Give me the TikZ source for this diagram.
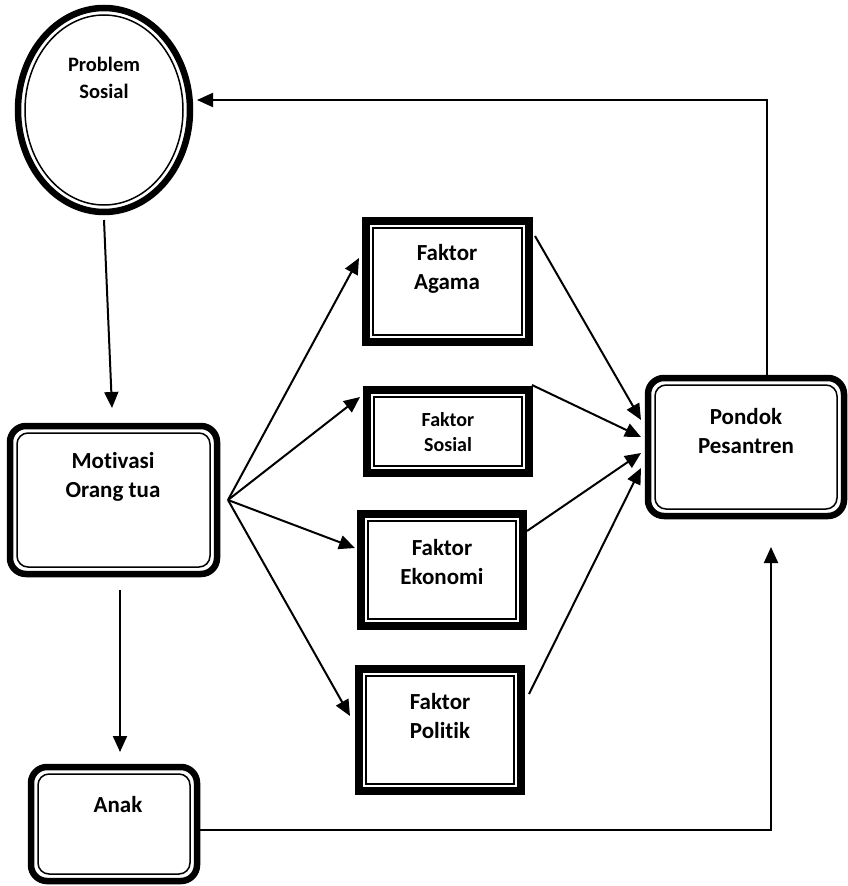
\documentclass[tikz,border=0pt]{standalone}
\usepackage{fontspec}
\setmainfont{Carlito}[Ligatures=NoCommon]
\usetikzlibrary{shapes.geometric,arrows.meta,calc}
\begin{document}
\begin{tikzpicture}[x=1pt,y=-1pt,
  rbout/.style={draw, rectangle, line width=6.5pt, rounded corners=16pt, inner sep=0pt, outer sep=0pt},
  rbin/.style={draw, rectangle, line width=1.5pt, rounded corners=11pt, inner sep=0pt, outer sep=0pt},
  sqout/.style={draw, rectangle, line width=8.5pt, inner sep=0pt, outer sep=0pt},
  sqin/.style={draw, rectangle, line width=1.5pt, inner sep=0pt, outer sep=0pt},
  elout/.style={draw, ellipse, line width=6.5pt, inner sep=0pt, outer sep=0pt},
  elin/.style={draw, ellipse, line width=1.5pt, inner sep=0pt, outer sep=0pt},
  lbl/.style={align=center, inner sep=0pt, font=\fontsize{23}{28.5}\selectfont\bfseries},
  lbls/.style={align=center, inner sep=0pt, font=\fontsize{20}{25}\selectfont\bfseries},
  lblp/.style={align=center, inner sep=0pt, font=\fontsize{20.5}{27}\selectfont\bfseries},
  arr/.style={line width=2pt, -{Triangle[length=16pt,width=14pt]}},
]
\useasboundingbox (0,0) rectangle (848,886);

% Problem Sosial
\node[elout, minimum width=172pt, minimum height=204pt] (ps) at (104,110) {};
\node[elin, minimum width=158pt, minimum height=190pt] (psi) at (ps) {};
\node[lblp] (pst) at (104,78) {Problem\\Sosial};

% Motivasi
\node[rbout, minimum width=207pt, minimum height=148pt] (mot) at (113.5,500) {};
\node[rbin, minimum width=193pt, minimum height=134pt] (moti) at (mot) {};
\node[lbl] (mott) at (113,477) {Motivasi\\Orang tua};

% Anak
\node[rbout, minimum width=166pt, minimum height=114pt] (anak) at (114,824) {};
\node[rbin, minimum width=152pt, minimum height=100pt] (anaki) at (anak) {};
\node[lbl] (anakt) at (118,805) {Anak};

% Pondok
\node[rbout, minimum width=196pt, minimum height=138pt] (pd) at (746,447) {};
\node[rbin, minimum width=182pt, minimum height=124pt] (pdi) at (pd) {};
\node[lbl] (pdt) at (746,431) {Pondok\\Pesantren};

% Faktor boxes
\node[sqout, minimum width=163pt, minimum height=121pt] (ag) at (447.5,281.5) {};
\node[sqin, minimum width=149pt, minimum height=107pt] (agi) at (ag) {};
\node[lbl] (agt) at (447,269) {Faktor\\Agama};

\node[sqout, minimum width=162pt, minimum height=83pt] (so) at (448,431.5) {};
\node[sqin, minimum width=148pt, minimum height=69pt] (soi) at (so) {};
\node[lbls] (sot) at (448,432) {Faktor\\Sosial};

\node[sqout, minimum width=162pt, minimum height=112pt] (ek) at (442,570) {};
\node[sqin, minimum width=148pt, minimum height=98pt] (eki) at (ek) {};
\node[lbl] (ekt) at (442,562) {Faktor\\Ekonomi};

\node[sqout, minimum width=162pt, minimum height=122pt] (po) at (440,730) {};
\node[sqin, minimum width=148pt, minimum height=108pt] (poi) at (po) {};
\node[lbl] (pot) at (440,716) {Faktor\\Politik};

% connectors
\draw[arr] ($(ps.south)+(0,8)$) -- ($(mot.north)+(-1.5,-18)$);
\draw[arr] ($(mot.south)+(6.5,16)$) -- ($(anak.north)+(6,-15)$);

\coordinate (fan) at ($(mot.east)+(11,0)$);
\draw[arr] (fan) -- ($(ag.west)+(-7,-23.5)$);
\draw[arr] (fan) -- ($(so.west)+(-7,-34.5)$);
\draw[arr] (fan) -- ($(ek.west)+(-6,-22)$);
\draw[arr] (fan) -- ($(po.west)+(-9,-14)$);

\draw[arr] ($(ag.north east)+(6,15)$) -- ($(pd.west)+(-7,-27)$);
\draw[arr] ($(so.north east)+(3,-5)$) -- ($(pd.west)+(-7,-10)$);
\draw[arr] ($(ek.north east)+(4,17)$) -- ($(pd.west)+(-7,6)$);
\draw[arr] ($(po.north east)+(8,25)$) -- ($(pd.west)+(-7,21)$);

\draw[arr] ($(pd.north)+(21,0)$) |- ($(ps.east)+(7,-10)$);
\draw[arr] ($(anak.east)+(0,6)$) -| ($(pd.south)+(25,31)$);
\end{tikzpicture}
\end{document}
